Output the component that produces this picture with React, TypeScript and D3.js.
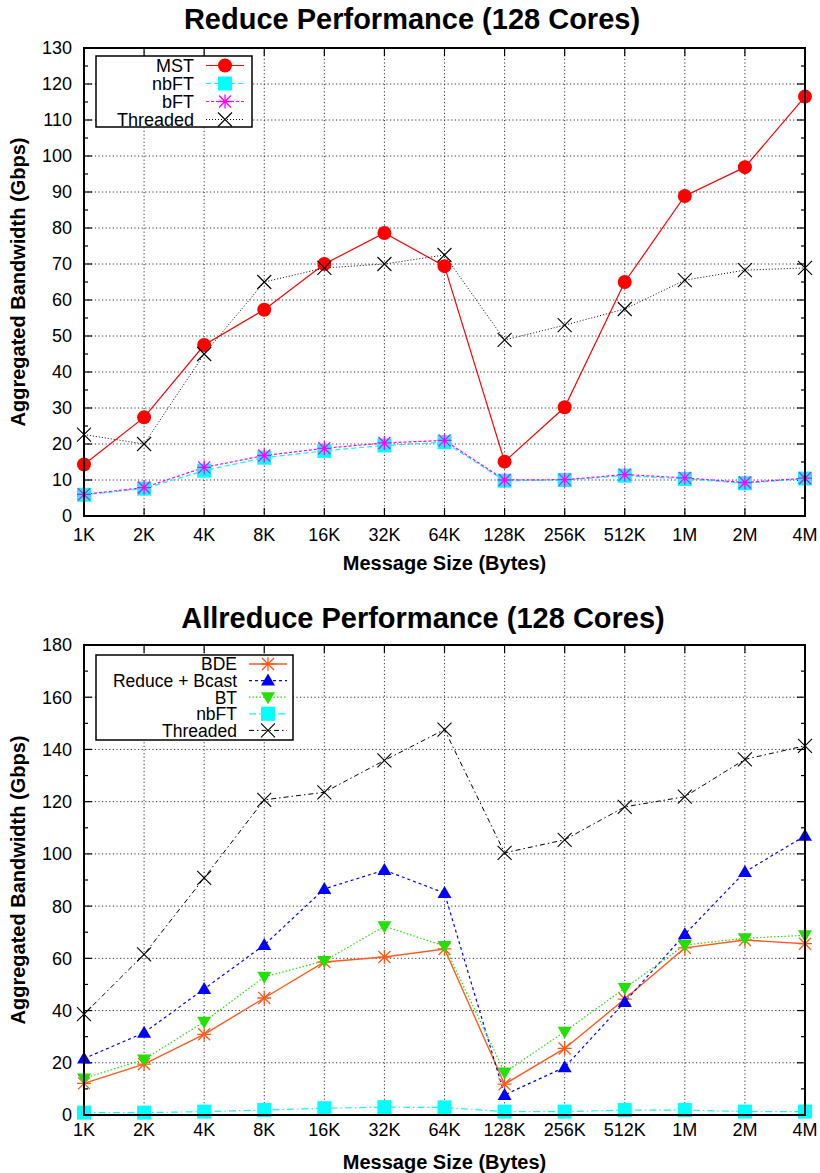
import { useEffect, useRef } from 'react'
import * as d3 from 'd3'

// message sizes on the x axis (categorical, log2 steps)
const SIZES = ['1K', '2K', '4K', '8K', '16K', '32K', '64K', '128K', '256K', '512K', '1M', '2M', '4M']

// Reduce (Gbps)
const REDUCE_MST = [14.3, 27.4, 47.5, 57.3, 70, 78.6, 69.4, 15.1, 30.2, 65, 88.9, 96.9, 116.5]
const REDUCE_NBFT = [5.9, 7.6, 12.6, 16.2, 18.1, 19.6, 20.5, 9.8, 10, 11.2, 10.3, 9.1, 10.4]
const REDUCE_BFT = [6.0, 7.9, 13.5, 16.8, 18.8, 20.3, 21.0, 10.0, 10.1, 11.5, 10.6, 9.3, 10.5]
const REDUCE_THREADED = [22.6, 20.0, 45.0, 65.0, 68.9, 70.0, 72.5, 48.9, 53.0, 57.5, 65.5, 68.3, 68.9]

// Allreduce (Gbps)
const ALLRED_BDE = [12.1, 19.5, 30.9, 44.8, 58.6, 60.5, 63.6, 11.8, 25.5, 44.4, 64, 67, 65.6]
const ALLRED_RB = [21.6, 31.5, 48.3, 65.1, 86.6, 93.8, 85, 7.7, 18.3, 43.3, 69.2, 93.1, 106.9]
const ALLRED_BT = [14, 21.3, 35.7, 52.9, 59, 72.3, 64.7, 16.3, 31.9, 48.6, 65.1, 67.7, 68.8]
const ALLRED_NBFT = [0.9, 0.9, 1.3, 1.9, 2.6, 3.0, 2.9, 1.3, 1.3, 1.9, 1.9, 1.3, 1.3]
const ALLRED_THREADED = [38.6, 61.5, 90.8, 120.7, 123.6, 135.8, 147.6, 100.4, 105.4, 118, 121.9, 136.2, 141.4]

type Marker = 'circle' | 'square' | 'asterisk' | 'cross' | 'triUp' | 'triDown'
interface Series { name: string; values: number[]; color: string; dash: string; width: number; marker: Marker }

const FONT = '"Liberation Sans", Arial, Helvetica, sans-serif'

const REDUCE_SERIES: Series[] = [
  { name: 'MST', values: REDUCE_MST, color: '#ff0000', dash: 'none', width: 1.2, marker: 'circle' },
  { name: 'nbFT', values: REDUCE_NBFT, color: '#00ffff', dash: '5 3', width: 1.2, marker: 'square' },
  { name: 'bFT', values: REDUCE_BFT, color: '#ff00ff', dash: '3 2', width: 1.2, marker: 'asterisk' },
  { name: 'Threaded', values: REDUCE_THREADED, color: '#000000', dash: '1 2', width: 1, marker: 'cross' },
]

const ALLRED_SERIES: Series[] = [
  { name: 'BDE', values: ALLRED_BDE, color: '#ff5a1e', dash: 'none', width: 1.4, marker: 'asterisk' },
  { name: 'Reduce + Bcast', values: ALLRED_RB, color: '#0000ff', dash: '3 3', width: 1.2, marker: 'triUp' },
  { name: 'BT', values: ALLRED_BT, color: '#22e000', dash: '1.5 2', width: 1.2, marker: 'triDown' },
  { name: 'nbFT', values: ALLRED_NBFT, color: '#00ffff', dash: '7 3 1.5 3', width: 1.2, marker: 'square' },
  { name: 'Threaded', values: ALLRED_THREADED, color: '#000000', dash: '5 3 1.5 3', width: 1, marker: 'cross' },
]

function drawMarker(g: d3.Selection<SVGGElement, unknown, null, undefined>, m: Marker, x: number, y: number, color: string) {
  if (m === 'circle') {
    g.append('circle').attr('cx', x).attr('cy', y).attr('r', 7).attr('fill', color)
  } else if (m === 'square') {
    g.append('rect').attr('x', x - 7).attr('y', y - 7).attr('width', 14).attr('height', 14).attr('fill', color)
  } else if (m === 'triUp') {
    g.append('path').attr('d', `M${x},${y - 7}L${x + 7},${y + 5}L${x - 7},${y + 5}Z`).attr('fill', color)
  } else if (m === 'triDown') {
    g.append('path').attr('d', `M${x},${y + 7}L${x + 7},${y - 5}L${x - 7},${y - 5}Z`).attr('fill', color)
  } else if (m === 'asterisk') {
    g.append('path')
      .attr('d', `M${x - 7},${y}H${x + 7}M${x},${y - 7}V${y + 7}M${x - 6},${y - 6}L${x + 6},${y + 6}M${x - 6},${y + 6}L${x + 6},${y - 6}`)
      .attr('stroke', color).attr('stroke-width', 1.3).attr('fill', 'none')
  } else {
    g.append('path')
      .attr('d', `M${x - 7},${y - 7}L${x + 7},${y + 7}M${x - 7},${y + 7}L${x + 7},${y - 7}`)
      .attr('stroke', color).attr('stroke-width', 1.1).attr('fill', 'none')
  }
}

interface ChartCfg {
  title: string
  titleX: number
  titleY: number
  top: number
  bottom: number
  yMax: number
  yStep: number
  minor: number
  series: Series[]
  legend: { x0: number; x1: number; y0: number; y1: number; row0: number; rowH: number; textX: number; fontSize: number }
  tickY: number
  xTitleY: number
}

const LEFT = 84
const RIGHT = 805

function drawChart(svg: d3.Selection<SVGSVGElement, unknown, null, undefined>, c: ChartCfg) {
  const g = svg.append('g')
  const x = d3.scalePoint<string>().domain(SIZES).range([LEFT, RIGHT]).padding(0)
  const y = d3.scaleLinear().domain([0, c.yMax]).range([c.bottom, c.top])
  const majors = d3.range(0, c.yMax + 0.001, c.yStep)
  const minors = d3.range(c.minor, c.yMax, c.yStep)

  // grid
  majors.slice(1, -1).forEach(v => {
    g.append('line').attr('x1', LEFT).attr('x2', RIGHT).attr('y1', y(v)).attr('y2', y(v))
      .attr('stroke', '#333').attr('stroke-width', 1).attr('stroke-dasharray', '1.2 2.4')
  })
  SIZES.slice(1, -1).forEach(s => {
    g.append('line').attr('x1', x(s)!).attr('x2', x(s)!).attr('y1', c.top).attr('y2', c.bottom)
      .attr('stroke', '#333').attr('stroke-width', 1).attr('stroke-dasharray', '1.2 2.4')
  })

  // ticks (inward, mirrored)
  majors.forEach(v => {
    g.append('line').attr('x1', LEFT).attr('x2', LEFT + 8).attr('y1', y(v)).attr('y2', y(v)).attr('stroke', '#000').attr('stroke-width', 1.2)
    g.append('line').attr('x1', RIGHT - 8).attr('x2', RIGHT).attr('y1', y(v)).attr('y2', y(v)).attr('stroke', '#000').attr('stroke-width', 1.2)
  })
  minors.forEach(v => {
    g.append('line').attr('x1', LEFT).attr('x2', LEFT + 4).attr('y1', y(v)).attr('y2', y(v)).attr('stroke', '#000').attr('stroke-width', 1.2)
    g.append('line').attr('x1', RIGHT - 4).attr('x2', RIGHT).attr('y1', y(v)).attr('y2', y(v)).attr('stroke', '#000').attr('stroke-width', 1.2)
  })
  SIZES.forEach(s => {
    g.append('line').attr('x1', x(s)!).attr('x2', x(s)!).attr('y1', c.bottom).attr('y2', c.bottom - 8).attr('stroke', '#000').attr('stroke-width', 1.2)
    g.append('line').attr('x1', x(s)!).attr('x2', x(s)!).attr('y1', c.top).attr('y2', c.top + 8).attr('stroke', '#000').attr('stroke-width', 1.2)
  })

  // tick labels
  majors.forEach(v => {
    g.append('text').attr('x', LEFT - 12).attr('y', y(v)).attr('dy', '0.36em').attr('text-anchor', 'end')
      .attr('font-family', FONT).attr('font-size', 18).attr('fill', '#000').text(String(v))
  })
  SIZES.forEach(s => {
    g.append('text').attr('x', x(s)!).attr('y', c.tickY).attr('text-anchor', 'middle')
      .attr('font-family', FONT).attr('font-size', 18).attr('fill', '#000').text(s)
  })

  // series
  c.series.forEach(s => {
    const line = d3.line<number>().x((_, i) => x(SIZES[i])!).y(v => y(v))
    g.append('path').attr('d', line(s.values)).attr('fill', 'none').attr('stroke', s.color)
      .attr('stroke-width', s.width).attr('stroke-dasharray', s.dash)
  })
  c.series.forEach(s => {
    const mg = g.append('g')
    s.values.forEach((v, i) => drawMarker(mg, s.marker, x(SIZES[i])!, y(v), s.color))
  })

  // frame
  g.append('rect').attr('x', LEFT).attr('y', c.top).attr('width', RIGHT - LEFT).attr('height', c.bottom - c.top)
    .attr('fill', 'none').attr('stroke', '#000').attr('stroke-width', 2)

  // legend
  const L = c.legend
  g.append('rect').attr('x', L.x0).attr('y', L.y0).attr('width', L.x1 - L.x0).attr('height', L.y1 - L.y0)
    .attr('fill', '#fff').attr('stroke', '#000').attr('stroke-width', 1.5)
  c.series.forEach((s, i) => {
    const ry = L.row0 + i * L.rowH
    g.append('text').attr('x', L.textX).attr('y', ry).attr('dy', '0.36em').attr('text-anchor', 'end')
      .attr('font-family', FONT).attr('font-size', L.fontSize).attr('fill', '#000').text(s.name)
    g.append('line').attr('x1', L.textX + 12).attr('x2', L.textX + 50).attr('y1', ry).attr('y2', ry)
      .attr('stroke', s.color).attr('stroke-width', s.width).attr('stroke-dasharray', s.dash)
    drawMarker(g, s.marker, L.textX + 31, ry, s.color)
  })

  // titles
  g.append('text').attr('x', c.titleX).attr('y', c.titleY).attr('text-anchor', 'middle')
    .attr('font-family', FONT).attr('font-weight', 'bold').attr('font-size', 29).attr('fill', '#000').text(c.title)
  g.append('text').attr('x', (LEFT + RIGHT) / 2).attr('y', c.xTitleY).attr('text-anchor', 'middle')
    .attr('font-family', FONT).attr('font-weight', 'bold').attr('font-size', 20).attr('fill', '#000').text('Message Size (Bytes)')
  g.append('text').attr('transform', `translate(25,${(c.top + c.bottom) / 2}) rotate(-90)`).attr('text-anchor', 'middle')
    .attr('font-family', FONT).attr('font-weight', 'bold').attr('font-size', 20).attr('fill', '#000').text('Aggregated Bandwidth (Gbps)')
}

export default function App() {
  const ref = useRef<SVGSVGElement>(null)

  useEffect(() => {
    if (!ref.current) return
    const svg = d3.select(ref.current)
    svg.selectAll('*').remove()
    svg.append('rect').attr('width', 820).attr('height', 1173).attr('fill', '#fff')

    drawChart(svg, {
      title: 'Reduce Performance (128 Cores)', titleX: 412, titleY: 29,
      top: 48, bottom: 516, yMax: 130, yStep: 10, minor: 5,
      series: REDUCE_SERIES,
      legend: { x0: 96, x1: 252, y0: 56, y1: 127, row0: 65.5, rowH: 18, textX: 194, fontSize: 18 },
      tickY: 541, xTitleY: 570,
    })
    drawChart(svg, {
      title: 'Allreduce Performance (128 Cores)', titleX: 423, titleY: 628,
      top: 645, bottom: 1115, yMax: 180, yStep: 20, minor: 10,
      series: ALLRED_SERIES,
      legend: { x0: 96, x1: 293, y0: 655, y1: 740, row0: 664, rowH: 16.6, textX: 237, fontSize: 17.5 },
      tickY: 1136, xTitleY: 1169,
    })
  }, [])

  return (
    <svg ref={ref} width={820} height={1173} style={{ position: 'absolute', left: 0, top: 0 }} />
  )
}
